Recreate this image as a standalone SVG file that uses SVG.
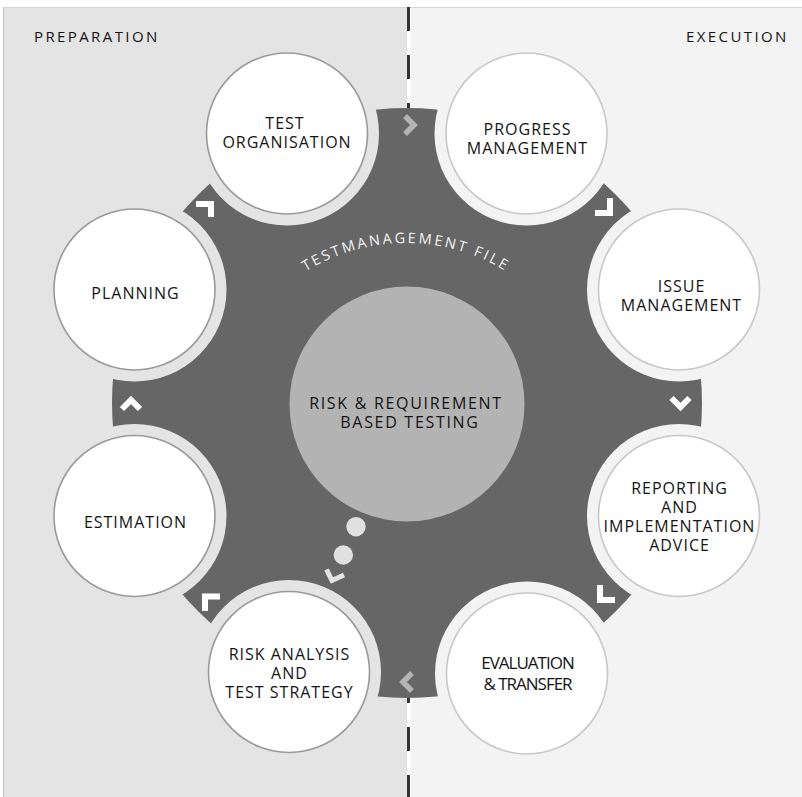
<svg xmlns="http://www.w3.org/2000/svg" width="802" height="797" viewBox="0 0 802 797">
<defs>
<style>
.lbl{font-family:"Open Sans","Liberation Sans",sans-serif;font-size:16px;fill:#141414;text-anchor:middle;letter-spacing:1px}
.ctr{letter-spacing:1.7px}
.eva{font-size:17px;letter-spacing:-1px}
.hdr{font-family:"Open Sans","Liberation Sans",sans-serif;font-size:15px;fill:#141414;letter-spacing:2.4px}
.arc{font-family:"Open Sans","Liberation Sans",sans-serif;font-size:14.5px;fill:#f2f2f2;letter-spacing:2.5px;text-anchor:middle}
.node{fill:#fff;stroke-width:1.6}
.nl{stroke:#9a9a9a}
.nr{stroke:#c8c8c8}
.hl{fill:#e4e4e4}
.hr{fill:#f3f3f3}
.chev{fill:none;stroke:#fff;stroke-width:6;stroke-linejoin:miter;stroke-linecap:butt}
.chevg{stroke:#b4b4b4;stroke-width:5.5}
.dot{fill:#e0e0e0}
</style>
<path id="arcpath" d="M215,434 A191,191 0 0 1 597,434"/>
</defs>
<g id="background">
<rect width="802" height="797" fill="#fff"/>
<rect x="3" y="7" width="404" height="790" fill="#e4e4e4"/>
<rect x="411" y="7" width="391" height="790" fill="#f3f3f3"/>
<line x1="3" y1="7.5" x2="802" y2="7.5" stroke="#d6d6d6"/>
<line x1="3.5" y1="7" x2="3.5" y2="797" stroke="#c4c4c4"/>
<line x1="408.5" y1="7" x2="408.5" y2="797" stroke="#333" stroke-width="3" stroke-dasharray="24 24"/>
<text class="hdr" x="34" y="42">PREPARATION</text>
<text class="hdr" x="686" y="42">EXECUTION</text>
</g>
<g id="ring">
<circle cx="407" cy="403" r="295" fill="#666"/>
<circle class="hl" cx="287" cy="133.5" r="92"/>
<circle class="hr" cx="526.5" cy="133.5" r="92"/>
<circle class="hr" cx="679" cy="289.5" r="92"/>
<circle class="hr" cx="679" cy="516" r="92"/>
<circle class="hr" cx="527" cy="673.5" r="92"/>
<circle class="hl" cx="289" cy="672" r="92"/>
<circle class="hl" cx="134.5" cy="516" r="92"/>
<circle class="hl" cx="134.5" cy="289.5" r="92"/>
<text class="arc"><textPath href="#arcpath" startOffset="50%">TESTMANAGEMENT FILE</textPath></text>
</g>
<g id="connectors">
<polyline class="chev chevg" points="405,116 414,125 405,134"/>
<path class="chev" d="M610,198 V213 H595"/>
<polyline class="chev" points="671.5,398 680.5,407 689.5,398"/>
<path class="chev" d="M600,585 V600 H615"/>
<polyline class="chev chevg" points="412,673 403,682 412,691"/>
<path class="chev" d="M205,611 V596.5 H220"/>
<polyline class="chev" points="122,409 131,400 140,409"/>
<path class="chev" d="M196,204 H211 V217"/>
<circle class="dot" cx="356" cy="526.7" r="9.7"/>
<circle class="dot" cx="343.3" cy="555" r="9.7"/>
<polyline class="chev" style="stroke:#e4e4e4;stroke-width:5" points="326.5,569.5 332,580.5 344,575"/>
</g>
<g id="center">
<circle cx="407" cy="404" r="117.5" fill="#b3b3b3"/>
<text class="lbl ctr"><tspan x="406" y="409">RISK &amp; REQUIREMENT</tspan><tspan x="410" y="428.3">BASED TESTING</tspan></text>
</g>
<g id="test-organisation">
<circle class="node nl" cx="287" cy="133.5" r="80.5"/>
<text class="lbl"><tspan x="285" y="129">TEST</tspan><tspan x="287" y="148.3">ORGANISATION</tspan></text>
</g>
<g id="progress-management">
<circle class="node nr" cx="526.5" cy="133.5" r="80.5"/>
<text class="lbl"><tspan x="527.5" y="135.3">PROGRESS</tspan><tspan x="527.5" y="154">MANAGEMENT</tspan></text>
</g>
<g id="issue-management">
<circle class="node nr" cx="679" cy="289.5" r="80.5"/>
<text class="lbl"><tspan x="681.5" y="291.7">ISSUE</tspan><tspan x="681.5" y="310.7">MANAGEMENT</tspan></text>
</g>
<g id="reporting">
<circle class="node nr" cx="679" cy="516" r="80.5"/>
<text class="lbl"><tspan x="679.5" y="494">REPORTING</tspan><tspan x="679.5" y="512.7">AND</tspan><tspan x="679.5" y="532">IMPLEMENTATION</tspan><tspan x="679.5" y="550.7">ADVICE</tspan></text>
</g>
<g id="evaluation">
<circle class="node nr" cx="527" cy="673.5" r="80.5"/>
<text class="lbl eva"><tspan x="527.5" y="668.7">EVALUATION</tspan><tspan x="527.5" y="690">&amp; TRANSFER</tspan></text>
</g>
<g id="risk-analysis">
<circle class="node nl" cx="289" cy="672" r="80.5"/>
<text class="lbl"><tspan x="289.5" y="660">RISK ANALYSIS</tspan><tspan x="289.5" y="679.3">AND</tspan><tspan x="289.5" y="698.3">TEST STRATEGY</tspan></text>
</g>
<g id="estimation">
<circle class="node nl" cx="134.5" cy="516" r="80.5"/>
<text class="lbl" x="135.5" y="527.7">ESTIMATION</text>
</g>
<g id="planning">
<circle class="node nl" cx="134.5" cy="289.5" r="80.5"/>
<text class="lbl" x="135.5" y="299.3">PLANNING</text>
</g>
</svg>
